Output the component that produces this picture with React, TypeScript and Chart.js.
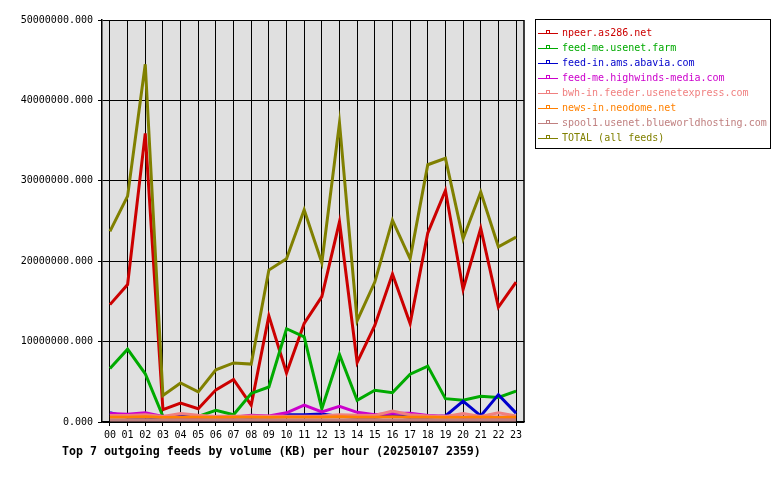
import React, { useEffect, useRef } from "react";
import { Chart, registerables } from "chart.js";

Chart.register(...registerables);

const HOURS = ["00","01","02","03","04","05","06","07","08","09","10","11","12","13","14","15","16","17","18","19","20","21","22","23"];

// values in millions of KB
const MILLION = 1000000;
const NPEER = [14.6, 17.1, 35.9, 1.55, 2.35, 1.65, 4.0, 5.3, 2.1, 13.2, 6.1, 12.25, 15.6, 24.9, 7.4, 12.0, 18.4, 12.25, 23.5, 28.8, 16.5, 24.1, 14.3, 17.4];
const USENET_FARM = [6.65, 9.05, 6.0, 0.7, 0.6, 0.7, 1.45, 0.9, 3.55, 4.35, 11.6, 10.6, 1.65, 8.4, 2.7, 3.95, 3.65, 5.95, 6.95, 2.9, 2.7, 3.2, 3.05, 3.85];
const ABAVIA = [1.15, 0.6, 0.6, 0.5, 0.7, 0.55, 0.65, 0.65, 0.6, 0.65, 0.9, 0.9, 1.0, 0.7, 0.6, 0.6, 0.8, 0.6, 0.6, 0.75, 2.6, 0.75, 3.4, 1.1];
const HIGHWINDS = [1.05, 0.95, 1.15, 0.7, 0.6, 0.55, 0.6, 0.6, 0.85, 0.75, 1.15, 2.1, 1.25, 1.95, 1.2, 0.9, 1.1, 1.1, 0.8, 0.7, 0.6, 0.6, 0.6, 0.6];
const USENETEXPRESS = [0.8, 0.8, 0.9, 0.7, 1.05, 0.85, 0.7, 0.7, 0.75, 0.7, 0.7, 0.7, 0.75, 0.9, 0.85, 0.8, 1.35, 0.9, 0.75, 0.7, 1.05, 0.7, 1.15, 0.75];
const NEODOME = [0.6, 0.6, 0.65, 0.55, 0.6, 0.6, 0.55, 0.6, 0.6, 0.55, 0.6, 0.6, 0.6, 0.65, 0.6, 0.6, 0.65, 0.6, 0.6, 0.55, 0.6, 0.6, 0.6, 0.6];
const BLUEWORLD = [0.25, 0.25, 0.25, 0.25, 0.25, 0.25, 0.25, 0.25, 0.25, 0.25, 0.25, 0.25, 0.25, 0.25, 0.25, 0.25, 0.25, 0.25, 0.25, 0.25, 0.25, 0.25, 0.25, 0.25];
const TOTAL = [23.7, 28.1, 44.5, 3.3, 4.85, 3.75, 6.5, 7.35, 7.2, 18.9, 20.3, 26.4, 19.8, 37.2, 12.6, 17.4, 25.1, 20.3, 32.0, 32.8, 22.8, 28.6, 21.8, 23.0];

const SERIES_NAMES = [
  "npeer.as286.net",
  "feed-me.usenet.farm",
  "feed-in.ams.abavia.com",
  "feed-me.highwinds-media.com",
  "bwh-in.feeder.usenetexpress.com",
  "news-in.neodome.net",
  "spool1.usenet.blueworldhosting.com",
  "TOTAL (all feeds)",
];
const SERIES_VALUES = [NPEER, USENET_FARM, ABAVIA, HIGHWINDS, USENETEXPRESS, NEODOME, BLUEWORLD, TOTAL];
const SERIES_COLORS = ["#cc0000", "#00aa00", "#0000cc", "#cc00cc", "#f08080", "#ff8000", "#c08080", "#808000"];

const Y_TICKS = [0, 10, 20, 30, 40, 50];
const TITLE = "Top 7 outgoing feeds by volume (KB) per hour (20250107 2359)";
const MONO = "'DejaVu Sans Mono', monospace";

export default function App() {
  const ref = useRef<HTMLCanvasElement | null>(null);

  useEffect(() => {
    const canvas = ref.current;
    if (!canvas) return;

    const framePlugin = {
      id: "frame",
      beforeDraw(chart: any) {
        const { ctx, chartArea } = chart;
        ctx.save();
        ctx.fillStyle = "#ffffff";
        ctx.fillRect(0, 0, chart.width, chart.height);
        ctx.fillStyle = "#e0e0e0";
        ctx.fillRect(chartArea.left, chartArea.top, chartArea.right - chartArea.left, chartArea.bottom - chartArea.top);
        ctx.restore();
      },
      beforeDatasetsDraw(chart: any) {
        const { ctx, chartArea } = chart;
        ctx.save();
        ctx.strokeStyle = "#000";
        ctx.lineWidth = 1.5;
        ctx.beginPath();
        ctx.moveTo(chartArea.right, chartArea.top);
        ctx.lineTo(chartArea.right, chartArea.bottom);
        ctx.stroke();
        ctx.restore();
      },
      afterDraw(chart: any) {
        const { ctx } = chart;
        ctx.save();
        ctx.strokeStyle = "#000";
        ctx.lineWidth = 1;
        ctx.strokeRect(535.5, 19.5, 235, 129);
        ctx.font = `10px ${MONO}`;
        ctx.textBaseline = "middle";
        ctx.textAlign = "left";
        SERIES_NAMES.forEach((name, i) => {
          const y = 33 + i * 15;
          const c = SERIES_COLORS[i];
          ctx.strokeStyle = c;
          ctx.lineWidth = 1;
          ctx.beginPath();
          ctx.moveTo(538, y + 0.5);
          ctx.lineTo(558, y + 0.5);
          ctx.stroke();
          ctx.strokeRect(546.5, y - 2.5, 3, 3);
          ctx.fillStyle = c;
          ctx.fillText(name, 562, y);
        });
        ctx.fillStyle = "#000";
        ctx.font = `bold 11.6px ${MONO}`;
        ctx.fillText(TITLE, 62, 452);
        ctx.restore();
      },
    };

    const n = SERIES_NAMES.length;
    const chart = new Chart(canvas, {
      type: "line",
      data: {
        datasets: SERIES_NAMES.map((name, i) => ({
          label: name,
          data: SERIES_VALUES[i].map((v, h) => ({ x: h, y: v * MILLION })),
          borderColor: SERIES_COLORS[i],
          backgroundColor: SERIES_COLORS[i],
          borderWidth: 3,
          pointRadius: 0,
          tension: 0,
          fill: false,
          order: n - i,
        })),
      },
      options: {
        animation: false,
        responsive: false,
        devicePixelRatio: 1,
        layout: { padding: { left: 0, top: 20, right: 256, bottom: 0 } },
        plugins: { legend: { display: false }, tooltip: { enabled: false }, title: { display: false } },
        scales: {
          x: {
            type: "linear",
            min: -0.45,
            max: 23.45,
            afterBuildTicks: (s: any) => {
              s.ticks = HOURS.map((_, i) => ({ value: i }));
            },
            afterFit: (s: any) => {
              s.height = 58;
            },
            ticks: {
              autoSkip: false,
              maxRotation: 0,
              padding: 3,
              color: "#000",
              font: { family: MONO, size: 10 },
              callback: (v: any) => HOURS[Number(v)] ?? "",
            },
            grid: { color: "#000", lineWidth: 1, tickLength: 4, drawTicks: true },
            border: { color: "#000", width: 1.5 },
          },
          y: {
            min: 0,
            max: 50 * MILLION,
            afterBuildTicks: (s: any) => {
              s.ticks = Y_TICKS.map((t) => ({ value: t * MILLION }));
            },
            afterFit: (s: any) => {
              s.width = 102;
            },
            ticks: {
              padding: 5,
              color: "#000",
              font: { family: MONO, size: 10 },
              callback: (v: any) => Number(v).toFixed(3),
            },
            grid: { color: "#000", lineWidth: 1, tickLength: 4, drawTicks: true },
            border: { color: "#000", width: 1.5 },
          },
        },
      },
      plugins: [framePlugin],
    } as any);

    return () => chart.destroy();
  }, []);

  return (
    <div style={{ position: "absolute", left: 0, top: 0, width: 780, height: 480, background: "#fff" }}>
      <canvas ref={ref} width={780} height={480} style={{ display: "block", width: 780, height: 480 }} />
    </div>
  );
}
